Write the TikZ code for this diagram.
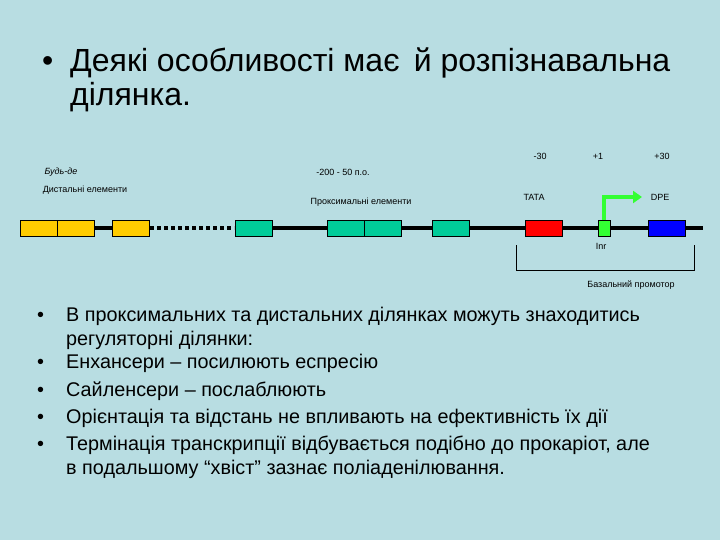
\documentclass[tikz,border=0pt]{standalone}
\usepackage{fontspec}
\setmainfont{Liberation Sans}
\usetikzlibrary{arrows.meta}
\definecolor{bg}{RGB}{184,221,226}
\definecolor{yel}{RGB}{255,204,0}
\definecolor{teal}{RGB}{0,204,153}
\definecolor{grn}{RGB}{51,255,51}
\begin{document}
\begin{tikzpicture}[x=1pt,y=-1pt,
 box/.style={draw=black,line width=0.6pt,minimum width=37pt,minimum height=16pt,inner sep=0pt,anchor=west},
 lbl/.style={font=\fontsize{9}{10}\selectfont,inner sep=1pt},
 bf/.style={font=\fontsize{19.8}{24}\selectfont,anchor=base west,inner sep=0pt},
 tf/.style={font=\fontsize{32}{38}\selectfont,anchor=base west,inner sep=0pt}]
\fill[bg] (0,0) rectangle (720,540);
\useasboundingbox (0,0) rectangle (720,540);
% title
\node[tf] (b0) at (42,72) {•};
\node[tf] (t1) at (70,72) {Деякі особливості має\, й розпізнавальна};
\node[tf] (t2) at (70,106) {ділянка.};
% line
\coordinate (L1) at (703,228);
\draw[line width=4pt] (93,228) -- (112,228);
\draw[line width=4pt,dash pattern=on 4pt off 3pt] (150,228) -- (234,228);
\draw[line width=4pt] (272,228) -- (L1);
% boxes
\node[box,fill=yel] (y1) at (20,228) {};
\node[box,fill=yel] (y2) at (56.5,228) {};
\node[box,fill=yel] (y3) at (112,228) {};
\node[box,fill=teal] (p1) at (235,228) {};
\node[box,fill=teal] (p2) at (327,228) {};
\node[box,fill=teal] (p3) at (364,228) {};
\node[box,fill=teal] (p4) at (432,228) {};
\node[box,fill=red] (tata) at (525,228) {};
\node[box,fill=grn,minimum width=12pt] (inr) at (598,228) {};
\node[box,fill=blue] (dpe) at (648,228) {};
% arrow
\coordinate (ae) at (642,197);
\draw[grn,line width=4pt,-{Triangle[length=9pt,width=12pt]}] (inr.north) |- (ae);
% labels
\node[lbl] (m30) at (540,156) {-30};
\node[lbl] (p1l) at (598,156) {+1};
\node[lbl] (p30) at (662,156) {+30};
\node[lbl] at (534,197) {TATA};
\node[lbl] at (660,197) {DPE};
\node[lbl] at (601,246) {Inr};
\node[lbl,font=\fontsize{9}{10}\selectfont\itshape] at (61,172) {Будь-де};
\node[lbl] at (343,172) {-200 - 50 п.о.};
\node[lbl] at (85,190) {Дистальні елементи};
\node[lbl] at (361,202) {Проксимальні елементи};
% bracket
\draw[line width=0.6pt] (516,245) -- (516,270) -- (694,270) -- (694,245);
\node[lbl] at (631,285) {Базальний промотор};
% bullets
\foreach \y in {321,368,396,423,450}{\node[bf] at (37,\y) {•};}
\node[bf] (s1) at (66,321) {В проксимальних та дистальних ділянках можуть знаходитись};
\node[bf] (s1b) at (66,345) {регуляторні ділянки:};
\node[bf] (s2) at (66,368) {Енхансери – посилюють еспресію};
\node[bf] (s3) at (66,396) {Сайленсери – послаблюють};
\node[bf] (s4) at (66,423) {Орієнтація та відстань не впливають на ефективність їх дії};
\node[bf] (s5) at (66,450) {Термінація транскрипції відбувається подібно до прокаріот, але};
\node[bf] (s5b) at (66,474) {в подальшому “хвіст” зазнає поліаденілювання.};
\end{tikzpicture}
\end{document}
